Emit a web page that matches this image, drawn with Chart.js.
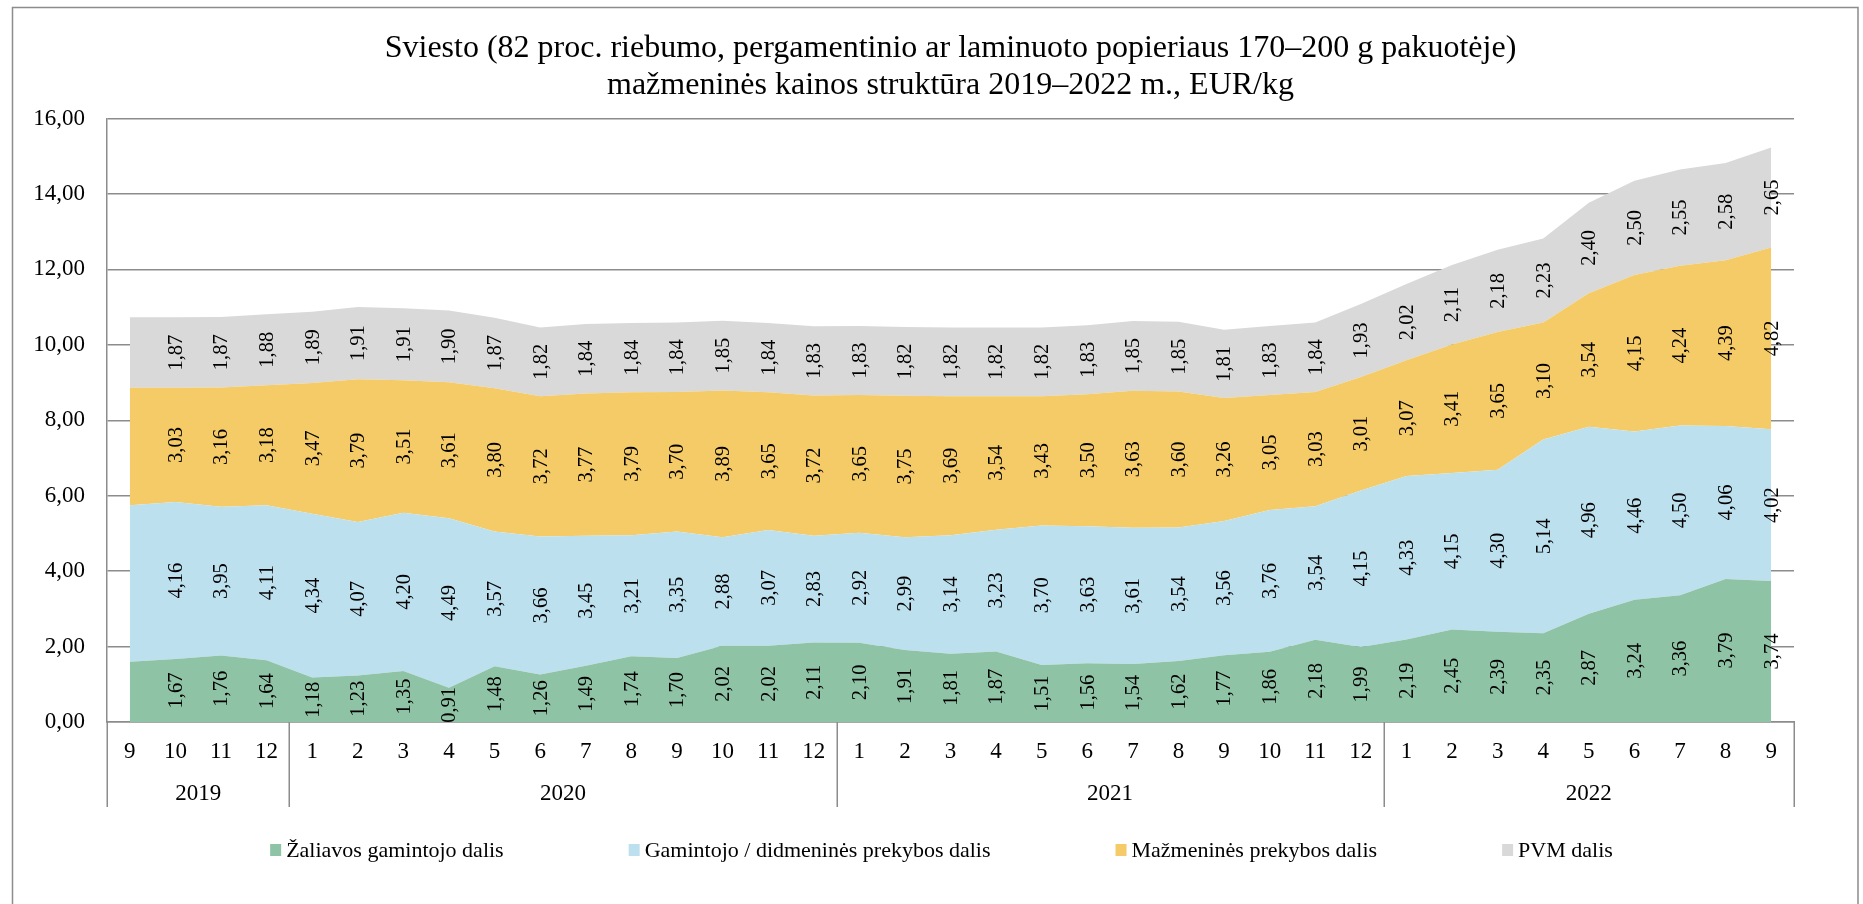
<!DOCTYPE html>
<html>
<head>
<meta charset="utf-8">
<script src="https://cdn.jsdelivr.net/npm/chart.js@4.4.1/dist/chart.umd.min.js"></script>
<style>
  html, body { margin: 0; padding: 0; background: #ffffff; }
  #wrap { width: 1863px; height: 904px; position: relative; }
  canvas { display: block; }
</style>
</head>
<body>
<div id="wrap"><canvas id="c" width="1863" height="904"></canvas></div>
<script>
// ---- Data (EUR/kg) ----
const monthLabels = ['9','10','11','12',
  '1','2','3','4','5','6','7','8','9','10','11','12',
  '1','2','3','4','5','6','7','8','9','10','11','12',
  '1','2','3','4','5','6','7','8','9'];
const yearLabels = ['2019', '2020', '2021', '2022'];
const monthsPerYear = [4, 12, 12, 9];

const zaliavos = [1.60, 1.67, 1.76, 1.64,
  1.18, 1.23, 1.35, 0.91, 1.48, 1.26, 1.49, 1.74, 1.70, 2.02, 2.02, 2.11,
  2.10, 1.91, 1.81, 1.87, 1.51, 1.56, 1.54, 1.62, 1.77, 1.86, 2.18, 1.99,
  2.19, 2.45, 2.39, 2.35, 2.87, 3.24, 3.36, 3.79, 3.74];
const gamintojo = [4.15, 4.16, 3.95, 4.11,
  4.34, 4.07, 4.20, 4.49, 3.57, 3.66, 3.45, 3.21, 3.35, 2.88, 3.07, 2.83,
  2.92, 2.99, 3.14, 3.23, 3.70, 3.63, 3.61, 3.54, 3.56, 3.76, 3.54, 4.15,
  4.33, 4.15, 4.30, 5.14, 4.96, 4.46, 4.50, 4.06, 4.02];
const mazmenines = [3.11, 3.03, 3.16, 3.18,
  3.47, 3.79, 3.51, 3.61, 3.80, 3.72, 3.77, 3.79, 3.70, 3.89, 3.65, 3.72,
  3.65, 3.75, 3.69, 3.54, 3.43, 3.50, 3.63, 3.60, 3.26, 3.05, 3.03, 3.01,
  3.07, 3.41, 3.65, 3.10, 3.54, 4.15, 4.24, 4.39, 4.82];
const pvm = [1.87, 1.87, 1.87, 1.88,
  1.89, 1.91, 1.91, 1.90, 1.87, 1.82, 1.84, 1.84, 1.84, 1.85, 1.84, 1.83,
  1.83, 1.82, 1.82, 1.82, 1.82, 1.83, 1.85, 1.85, 1.81, 1.83, 1.84, 1.93,
  2.02, 2.11, 2.18, 2.23, 2.40, 2.50, 2.55, 2.58, 2.65];

const seriesNames = ['Žaliavos gamintojo dalis', 'Gamintojo / didmeninės prekybos dalis',
  'Mažmeninės prekybos dalis', 'PVM dalis'];
const seriesColors = ['#8FC3A6', '#BDE0EF', '#F4CB66', '#D9D9D9'];
const yTicks = [0, 2, 4, 6, 8, 10, 12, 14, 16];
const titleLines = ['Sviesto (82 proc. riebumo, pergamentinio ar laminuoto popieriaus 170–200 g pakuotėje)',
  'mažmeninės kainos struktūra 2019–2022 m., EUR/kg'];
const firstLabelledPoint = 1; // first month carries no data label in the original

// ---- Styles ----
const FONT = "'Liberation Serif', 'Times New Roman', serif";
const AXIS_GRAY = '#8C8C8C';
const fmt = v => v.toFixed(2).replace('.', ',');

const seriesValues = [zaliavos, gamintojo, mazmenines, pvm];

const datasets = seriesValues.map((vals, i) => ({
  label: seriesNames[i],
  data: vals,
  backgroundColor: seriesColors[i],
  borderColor: seriesColors[i],
  borderWidth: 0,
  pointRadius: 0,
  pointHoverRadius: 0,
  pointHitRadius: 0,
  tension: 0,
  fill: i === 0 ? 'origin' : '-1'
}));

const framePlugin = {
  id: 'frame',
  beforeDraw(chart) {
    const ctx = chart.ctx;
    ctx.save();
    ctx.fillStyle = '#ffffff';
    ctx.fillRect(0, 0, chart.width, chart.height);
    ctx.strokeStyle = AXIS_GRAY;
    ctx.lineWidth = 1.5;
    ctx.beginPath();
    ctx.moveTo(12.5, chart.height + 5);
    ctx.lineTo(12.5, 7.5);
    ctx.lineTo(1858, 7.5);
    ctx.lineTo(1858, chart.height + 5);
    ctx.stroke();
    ctx.restore();
  }
};

const valueLabelPlugin = {
  id: 'valueLabels',
  afterDatasetsDraw(chart) {
    const ctx = chart.ctx;
    const xs = chart.scales.x, ys = chart.scales.y;
    ctx.save();
    ctx.font = '20.5px ' + FONT;
    ctx.fillStyle = '#000000';
    ctx.textAlign = 'center';
    ctx.textBaseline = 'middle';
    for (let j = firstLabelledPoint; j < monthLabels.length; j++) {
      let base = 0;
      for (let i = 0; i < seriesValues.length; i++) {
        const v = seriesValues[i][j];
        const x = xs.getPixelForValue(j);
        const y = ys.getPixelForValue(base + v / 2);
        ctx.save();
        ctx.translate(x, y);
        ctx.rotate(-Math.PI / 2);
        ctx.fillText(fmt(v), 0, 1);
        ctx.restore();
        base += v;
      }
    }
    ctx.restore();
  }
};

const yearAxisPlugin = {
  id: 'yearAxis',
  afterDraw(chart) {
    const ctx = chart.ctx;
    const xs = chart.scales.x;
    const area = chart.chartArea;
    const top = area.bottom;
    const bottom = xs.bottom;
    ctx.save();
    ctx.strokeStyle = AXIS_GRAY;
    ctx.lineWidth = 1.5;
    ctx.font = '23px ' + FONT;
    ctx.fillStyle = '#000000';
    ctx.textAlign = 'center';
    ctx.textBaseline = 'middle';
    let start = 0;
    const seps = [area.left];
    monthsPerYear.forEach((n, k) => {
      const end = start + n - 1;
      const cx = (xs.getPixelForValue(start) + xs.getPixelForValue(end)) / 2;
      ctx.fillText(yearLabels[k], cx, top + 72);
      if (k < monthsPerYear.length - 1) {
        seps.push((xs.getPixelForValue(end) + xs.getPixelForValue(end + 1)) / 2);
      }
      start += n;
    });
    seps.push(area.right);
    seps.forEach(sx => {
      const px = Math.round(sx) + 0.25;
      ctx.beginPath();
      ctx.moveTo(px, top);
      ctx.lineTo(px, bottom);
      ctx.stroke();
    });
    ctx.restore();
  }
};

const legendPlugin = {
  id: 'customLegend',
  afterDraw(chart) {
    const ctx = chart.ctx;
    ctx.save();
    ctx.font = '22px ' + FONT;
    ctx.textBaseline = 'middle';
    ctx.textAlign = 'left';
    const box = 11, gap = 5, between = 125;
    const widths = seriesNames.map(t => ctx.measureText(t).width);
    const total = widths.reduce((a, w) => a + box + gap + w, 0) + between * (seriesNames.length - 1);
    let x = chart.width / 2 + 10 - total / 2;
    const yc = chart.height - 54;
    seriesNames.forEach((t, i) => {
      ctx.fillStyle = seriesColors[i];
      ctx.fillRect(x, yc - 6, box, 12);
      ctx.fillStyle = '#000000';
      ctx.fillText(t, x + box + gap, yc + 1);
      x += box + gap + widths[i] + between;
    });
    ctx.restore();
  }
};

new Chart(document.getElementById('c'), {
  type: 'line',
  data: { labels: monthLabels, datasets },
  options: {
    responsive: false,
    animation: false,
    devicePixelRatio: 1,
    layout: { padding: { left: 0, right: 69, top: 0, bottom: 97 } },
    interaction: { mode: null },
    plugins: {
      legend: { display: false },
      tooltip: { enabled: false },
      title: {
        display: true,
        text: titleLines,
        color: '#000000',
        fullSize: false,
        font: { family: FONT, size: 32, weight: 'normal', lineHeight: 1.16 },
        padding: { top: 30.4, bottom: 13.9 }
      }
    },
    scales: {
      x: {
        type: 'category',
        offset: true,
        z: 1,
        grid: { display: false, drawTicks: false },
        border: { display: true, color: AXIS_GRAY, width: 1.5 },
        ticks: {
          color: '#000000',
          font: { family: FONT, size: 23 },
          padding: 16,
          maxRotation: 0,
          autoSkip: false
        },
        afterFit(scale) { scale.height = 85; }
      },
      y: {
        stacked: true,
        min: 0,
        max: 16,
        afterBuildTicks(scale) { scale.ticks = yTicks.map(v => ({ value: v })); },
        grid: { color: AXIS_GRAY, lineWidth: 1.5, drawTicks: false },
        border: { display: true, color: AXIS_GRAY, width: 1.5 },
        ticks: {
          color: '#000000',
          font: { family: FONT, size: 23 },
          padding: 22,
          callback: v => fmt(v)
        },
        afterFit(scale) { scale.width = 107; }
      }
    }
  },
  plugins: [framePlugin, valueLabelPlugin, yearAxisPlugin, legendPlugin]
});
</script>
</body>
</html>
